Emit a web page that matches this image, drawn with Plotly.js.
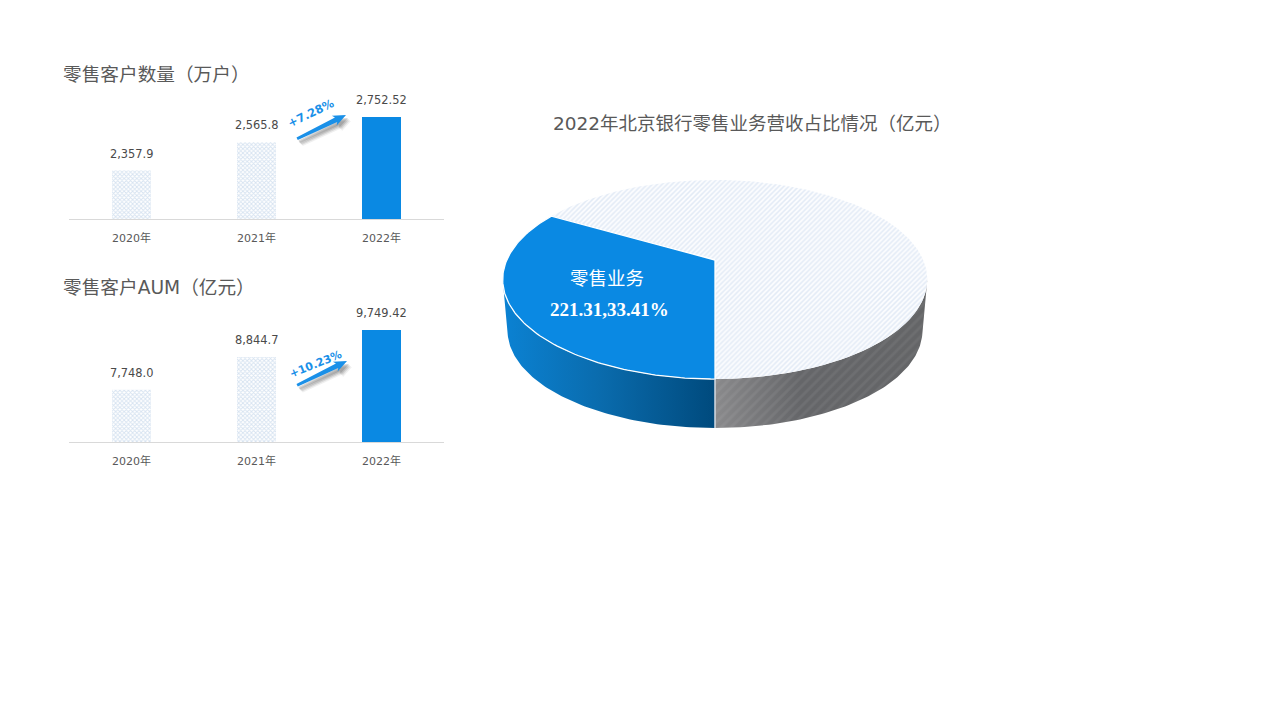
<!DOCTYPE html>
<html><head><meta charset="utf-8">
<script src="https://cdn.plot.ly/plotly-3.0.1.min.js"></script>
<style>html,body{margin:0;padding:0;background:#fff}#c{width:1280px;height:720px}</style>
</head><body><div id="c"></div>
<script>
const years = ['2020年','2021年','2022年'];
const customers = [2357.9,2565.8,2752.52];
const customerLabels = ['2,357.9','2,565.8','2,752.52'];
const aum = [7748.0,8844.7,9749.42];
const aumLabels = ['7,748.0','8,844.7','9,749.42'];
const pieNames = ['零售业务','其他业务'];
const pieValues = [221.31,441.09];
const pieLabel = '221.31,33.41%';
const titles = ['零售客户数量（万户）','零售客户AUM（亿元）','2022年北京银行零售业务营收占比情况（亿元）'];
const growth = ['+7.28%','+10.23%'];

const W=1280,H=720;
const FONT='"DejaVu Sans","Noto Sans CJK SC",sans-serif';
const BLUE='#0a89e3', GREY='#595959';
const px=x=>x/W, py=y=>1-y/H;

// Perspective projection of the pie disc onto the page
const P={cx:715,cy:260,kx:208.2,ky:95.7,p:-0.196,wallScale:0.977,wallDrop:51.7};
function proj(theta,level){
  const s=level?P.wallScale:1, d=level?P.wallDrop:0;
  const den=1+P.p*Math.cos(theta);
  return [P.cx-s*P.kx*Math.sin(theta)/den, P.cy+d+s*P.ky*Math.cos(theta)/den];
}
function arc(a,b,level){
  const n=Math.max(8,Math.ceil(Math.abs(b-a)*60)),r=[];
  for(let i=0;i<=n;i++) r.push(proj(a+(b-a)*i/n,level));
  return r;
}
const total=pieValues[0]+pieValues[1];
const split=pieValues[0]/total*2*Math.PI;
const edge=Math.acos(-P.p);
const poly=(pts,extra)=>Object.assign({x:pts.map(q=>q[0]),y:pts.map(q=>q[1]),xaxis:'x3',yaxis:'y3',mode:'lines',
  fill:'toself',line:{width:0},hoverinfo:'skip',showlegend:false},extra);

const wallBlue=[...arc(0,edge,1),...arc(edge,0,0)];
const wallGrey=[...arc(0,-edge,1),...arc(-edge,0,0)];
const topBlue=[[P.cx,P.cy],...arc(0,split,0),[P.cx,P.cy]];
const topPale=[[P.cx,P.cy],...arc(split,2*Math.PI,0),[P.cx,P.cy]];
const seam=[proj(0,0),proj(0,1)];

const pieTraces=[
 poly(wallBlue,{fillgradient:{type:'horizontal',colorscale:[[0,'#0b82d3'],[0.45,'#0a6cae'],[1,'#004a7d']]}}),
 poly(wallGrey,{fillgradient:{type:'horizontal',colorscale:[[0,'#8a8a8c'],[0.4,'#656669'],[1,'#646567']]}}),
 poly(wallGrey,{fillcolor:'rgba(0,0,0,0)',fillpattern:{shape:'/',fgcolor:'rgba(255,255,255,0.06)',bgcolor:'rgba(0,0,0,0)',size:7,solidity:0.4}}),
 poly(topPale,{fillcolor:'#ffffff',fillpattern:{shape:'/',fgcolor:'#e3ebf6',bgcolor:'#fcfdff',size:3.5,solidity:0.45}}),
 poly(topBlue,{fillcolor:BLUE,line:{width:1.3,color:'#ffffff'}}),
 {x:seam.map(q=>q[0]),y:seam.map(q=>q[1]),xaxis:'x3',yaxis:'y3',mode:'lines',line:{width:1.5,color:'#d5dbe3'},hoverinfo:'skip',showlegend:false}
];

function barTraces(vals,xa,ya){
  const hatched={type:'bar',x:years.slice(0,2),y:vals.slice(0,2),xaxis:xa,yaxis:ya,width:39/125,hoverinfo:'skip',showlegend:false,
    marker:{color:'#ffffff',line:{width:0},pattern:{shape:'x',fgcolor:'#d6e3f1',bgcolor:'#ffffff',size:3,solidity:0.5}}};
  const solid={type:'bar',x:years.slice(2),y:vals.slice(2),xaxis:xa,yaxis:ya,width:39/125,hoverinfo:'skip',showlegend:false,
    marker:{color:BLUE,line:{width:0}}};
  return [hatched,solid];
}
function barLabels(labels,vals,xa,ya){
  return labels.map((t,i)=>({text:t,x:years[i],y:vals[i],xref:xa,yref:ya,showarrow:false,xanchor:'center',yanchor:'middle',yshift:17,
    font:{family:FONT,size:11.4,color:'#4a4a4a'}}));
}

const axisX=(anchor)=>({domain:[px(69),px(444)],anchor,type:'category',categoryorder:'array',categoryarray:years,showgrid:false,zeroline:false,
  showline:true,linecolor:'#d9d9d9',linewidth:1,ticks:'outside',ticklen:9,tickcolor:'rgba(0,0,0,0)',tickfont:{family:FONT,size:11,color:GREY},fixedrange:true});
const axisY=(top,bottom,range,anchor)=>({domain:[py(bottom),py(top)],anchor,range,visible:false,fixedrange:true});

function arrowShapes(x0,y0,x1,y1){
  const ang=Math.atan2(y1-y0,x1-x0),c=Math.cos(ang),s=Math.sin(ang);
  const L=Math.hypot(x1-x0,y1-y0);
  const at=(u,v,dx,dy)=>[(x0+u*c-v*s+dx)/W,1-(y0+u*s+v*c+dy)/H];
  const pts=(dx,dy)=>{
    const q=[[0,-1.2],[L-11,-2.6],[L-13,-5.5],[L,0],[L-13,5.5],[L-11,2.6],[0,1.8]].map(a=>at(a[0],a[1],dx,dy));
    return 'M'+q.map(a=>a[0]+','+a[1]).join('L')+'Z';
  };
  const sh=(dx,dy,op)=>({type:'path',xref:'paper',yref:'paper',path:pts(dx,dy),fillcolor:'rgba(60,60,60,'+op+')',line:{width:0},layer:'above'});
  return [sh(5,6,0.08),sh(4,5,0.12),sh(3,4,0.16),sh(2,3,0.2),
    {type:'path',xref:'paper',yref:'paper',path:pts(0,0),fillcolor:'#1a90e8',line:{width:0},layer:'above'}];
}
const note=(text,x,y,size,color,opt)=>Object.assign({text,x:px(x),y:py(y),xref:'paper',yref:'paper',showarrow:false,
  xanchor:'center',yanchor:'middle',font:{family:FONT,size,color}},opt||{});

const layout={
  width:W,height:H,margin:{l:0,r:0,t:0,b:0},paper_bgcolor:'#fff',plot_bgcolor:'rgba(0,0,0,0)',showlegend:false,
  barmode:'overlay',
  xaxis:axisX('y'), yaxis:axisY(110.6,219,[2000,2800],'x'),
  xaxis2:axisX('y2'), yaxis2:axisY(322.5,442,[6000,10000],'x2'),
  xaxis3:{domain:[0,1],range:[0,W],visible:false,fixedrange:true,anchor:'y3'},
  yaxis3:{domain:[0,1],range:[H,0],visible:false,fixedrange:true,anchor:'x3'},
  shapes:[...arrowShapes(297,138.5,346,115),...arrowShapes(297,385,347,361)],
  annotations:[
    note(titles[0],61,74.5,18.67,GREY,{xanchor:'left'}),
    note(titles[1],61,287.5,18.67,GREY,{xanchor:'left'}),
    note(titles[2],752,123.5,18.5,GREY),
    note(growth[0],311,113,11.5,'#1a90e8',{textangle:-26,font:{family:FONT,size:11.5,color:'#1a90e8',weight:700}}),
    note(growth[1],315,364,11,'#1a90e8',{textangle:-22,font:{family:FONT,size:11,color:'#1a90e8',weight:700}}),
    note(pieNames[0],607,277,18.5,'#ffffff',{font:{family:'"Noto Sans CJK SC",sans-serif',size:18.5,color:'#ffffff'}}),
    note(pieLabel,609,309,19,'#ffffff',{font:{family:'"Liberation Serif",serif',size:19,color:'#ffffff',weight:700}}),
    ...barLabels(customerLabels,customers,'x','y'),
    ...barLabels(aumLabels,aum,'x2','y2')
  ]
};
Plotly.newPlot('c',[...pieTraces,...barTraces(customers,'x','y'),...barTraces(aum,'x2','y2')],layout,{displayModeBar:false,staticPlot:true});
</script></body></html>
